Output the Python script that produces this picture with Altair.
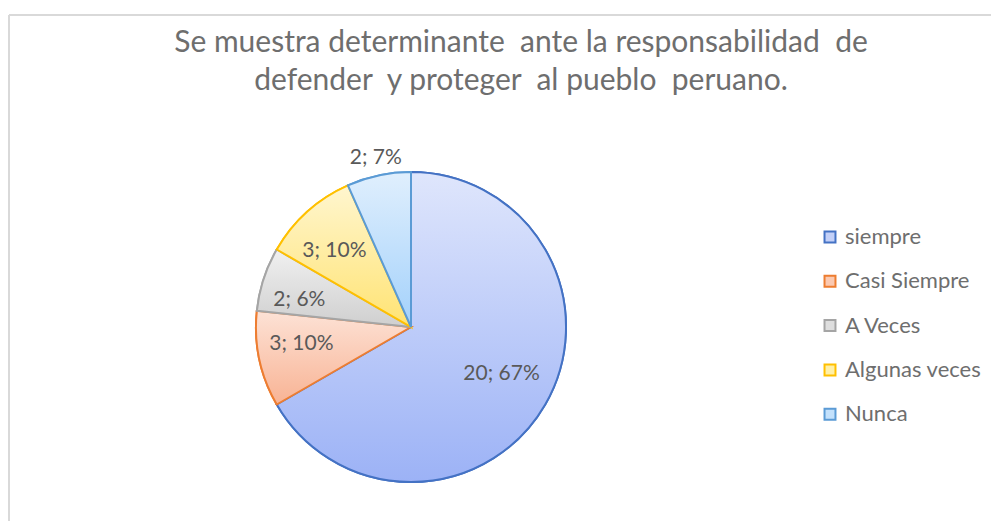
import altair as alt
import pandas as pd

categories = ["siempre", "Casi Siempre", "A Veces", "Algunas veces", "Nunca"]
values = [20, 3, 2, 3, 2]
percents = [67, 10, 6, 10, 7]
title_lines = ["Se muestra determinante\u00a0 ante la responsabilidad\u00a0 de",
               "defender\u00a0 y proteger\u00a0 al pueblo\u00a0 peruano."]

mid_colors = ["#c3d0f8", "#fbc9b1", "#dedede", "#fff0a8", "#c3e1fc"]
stroke_colors = ["#4472c4", "#ed7d31", "#a5a5a5", "#ffc000", "#5b9bd5"]
grad_top = ["#dfe6fc", "#fde2d6", "#f0f0f0", "#fff6cf", "#e0effd"]
grad_bot = ["#9cb2f6", "#f8b394", "#cfcfcf", "#ffe373", "#a3d1fb"]

df = pd.DataFrame({"cat": categories, "value": values, "pct": percents,
                   "idx": list(range(len(categories)))})

FONT = "Lato"
TXT = "#595959"
TXT_LIGHT = "#6e6e6e"
CX, CY, R = 402, 312, 155
W, H = 982, 506


def grad(i):
    return {"gradient": "linear", "x1": 0, "y1": 0, "x2": 0, "y2": 1,
            "stops": [{"offset": 0, "color": grad_top[i]},
                      {"offset": 1, "color": grad_bot[i]}]}


base = alt.Chart(df).encode(
    theta=alt.Theta("value:Q", stack=True),
    order=alt.Order("idx:Q"),
)

color_scale = alt.Scale(domain=categories, range=mid_colors)
stroke_scale = alt.Scale(domain=categories, range=stroke_colors)

legend_layer = base.mark_arc(radius=R, strokeWidth=2).encode(
    x=alt.value(CX), y=alt.value(CY),
    fill=alt.Fill("cat:N", scale=color_scale, sort=categories,
                  legend=alt.Legend(title=None, orient="none", legendX=810, legendY=211,
                                    symbolType="square", symbolSize=120,
                                    symbolStrokeWidth=2, labelFont=FONT,
                                    labelFontSize=22, labelColor=TXT_LIGHT,
                                    rowPadding=22.3, labelOffset=4)),
    stroke=alt.Stroke("cat:N", scale=stroke_scale, sort=categories),
)

conds = [{"test": f"datum.cat === '{c}'", "value": grad(i)} for i, c in enumerate(categories[:-1])]
grad_layer = base.mark_arc(radius=R, strokeWidth=2).encode(
    x=alt.value(CX), y=alt.value(CY),
    fill=alt.value(grad(len(categories) - 1), condition=conds),
    stroke=alt.Stroke("cat:N", scale=stroke_scale, sort=categories, legend=None),
)


def label_layer(cat, radius, dx=0, dy=0):
    return base.transform_calculate(
        label="datum.value + '; ' + datum.pct + '%'"
    ).mark_text(radius=radius, font=FONT, fontSize=21, color=TXT, dx=dx, dy=dy).encode(
        x=alt.value(CX), y=alt.value(CY),
        text="label:N",
        opacity=alt.condition(f"datum.cat === '{cat}'", alt.value(1), alt.value(0)),
    )


frame_left = alt.Chart(df).mark_rule(color="#d9d9d9", strokeWidth=1.5).encode(
    x=alt.value(0), y=alt.value(0), y2=alt.value(H))
frame_top = alt.Chart(df).mark_rule(color="#d9d9d9", strokeWidth=1.5).encode(
    x=alt.value(0), x2=alt.value(W), y=alt.value(0))

chart = alt.layer(
    frame_left, frame_top,
    legend_layer, grad_layer,
    label_layer("siempre", 93, dx=10),
    label_layer("Casi Siempre", 110, dx=-2, dy=-6),
    label_layer("A Veces", 110, dx=-7, dy=7),
    label_layer("Algunas veces", 110, dx=-3, dy=6),
    label_layer("Nunca", 174, dx=1, dy=1),
).properties(
    width=W, height=H,
    autosize=alt.AutoSizeParams(type="none"),
    padding={"left": 1, "top": 7, "right": 0, "bottom": 0},
    title=alt.TitleParams(text=title_lines, font=FONT, fontSize=30, fontWeight="normal",
                          color=TXT_LIGHT, anchor="middle", dx=21, dy=82, lineHeight=38,
                          baseline="top", offset=0),
).configure_view(stroke=None)

chart.save("out.html", embed_options={"renderer": "svg", "actions": False})
